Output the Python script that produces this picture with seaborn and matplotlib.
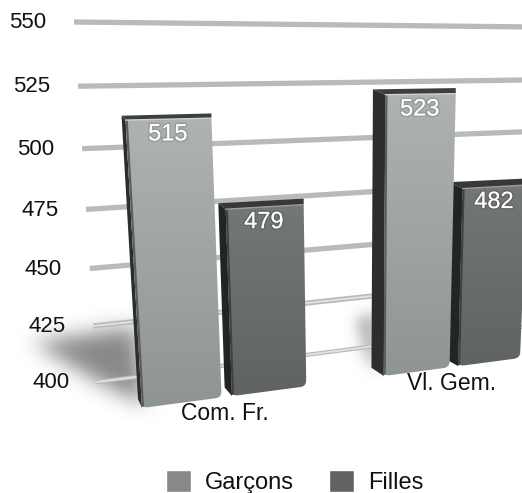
import numpy as np
import pandas as pd
import seaborn as sns
import matplotlib
matplotlib.use("Agg")
import matplotlib.pyplot as plt
import matplotlib.patheffects as pe
from matplotlib import transforms as mtransforms
from matplotlib.patches import Polygon
from matplotlib.path import Path

# donnees
epreuves = ["Com. Fr.", "Vl. Gem."]
garcons = [515, 523]
filles = [479, 482]
graduations = [400, 425, 450, 475, 500, 525, 550]

LARG, HAUT = 522, 493


class Perspective(mtransforms.Transform):
    # homographie donnees -> pixels (y image compte depuis le haut)
    input_dims = 2
    output_dims = 2
    is_separable = False
    has_inverse = False

    def __init__(self, src, dst):
        super().__init__()
        A, b = [], []
        for (x, y), (u, v) in zip(src, dst):
            v = HAUT - v
            A.append([x, y, 1, 0, 0, 0, -u * x, -u * y])
            A.append([0, 0, 0, x, y, 1, -v * x, -v * y])
            b += [u, v]
        h = np.linalg.solve(np.array(A, float), np.array(b, float))
        self.H = np.append(h, 1).reshape(3, 3)

    def transform_non_affine(self, values):
        values = np.asarray(values, float)
        pts = np.column_stack([values, np.ones(len(values))]) @ self.H.T
        return pts[:, :2] / pts[:, 2:]


# plans de la scene : grille au fond, faces avant et arriere des barres
plan_grille = Perspective([(0, 400), (1, 400), (0, 550), (1, 550)],
                          [(97, 382), (522, 327), (74, 22), (533, 27)])
coins = [(-0.329, 400), (1.329, 400), (-0.329, 525), (1.329, 525)]
plan_avant = Perspective(coins, [(142, 408), (520, 358), (124, 93), (531, 88)])
plan_arriere = Perspective(coins, [(138, 399), (504, 350), (120, 89), (515, 82)])

sns.set_theme(style="white")
plt.rcParams["font.family"] = ["Liberation Sans", "DejaVu Sans"]

df = pd.DataFrame({
    "epreuve": epreuves * 2,
    "score": garcons + filles,
    "genre": ["Garçons"] * 2 + ["Filles"] * 2,
})

fig = plt.figure(figsize=(LARG / 100, HAUT / 100), dpi=100)
ax = fig.add_axes([0, 0, 1, 1])
sns.barplot(data=df, x="epreuve", y="score", hue="genre", width=0.7, gap=0.12,
            palette=["#888888", "#636363"], saturation=1, ax=ax, zorder=4)


def ombre(points, sigma, force):
    # tache floue sous les barres
    yy, xx = np.mgrid[0:HAUT, 0:LARG]
    masque = Path(points).contains_points(np.column_stack([xx.ravel(), yy.ravel()]))
    masque = masque.reshape(HAUT, LARG).astype(float)
    n = np.arange(-3 * sigma, 3 * sigma + 1)
    noyau = np.exp(-n ** 2 / (2.0 * sigma ** 2))
    noyau /= noyau.sum()
    masque = np.apply_along_axis(lambda r: np.convolve(r, noyau, "same"), 0, masque)
    masque = np.apply_along_axis(lambda r: np.convolve(r, noyau, "same"), 1, masque)
    rgba = np.zeros((HAUT, LARG, 4))
    rgba[..., :3] = 0.45
    rgba[..., 3] = masque * force
    ax.imshow(rgba, extent=(0, LARG, 0, HAUT), origin="upper", aspect="auto",
              transform=mtransforms.IdentityTransform(), zorder=1)


ombre([(32, 342), (135, 326), (145, 404), (105, 385)], 10, 0.85)
ombre([(356, 318), (375, 312), (375, 372), (364, 352)], 7, 0.6)

# grille
for val in graduations:
    clair = val == 400
    ax.plot([0, 1], [val, val], transform=plan_grille, color="#bababa",
            lw=3.0 if clair else 3.8, solid_capstyle="butt", zorder=2)
    if val <= 425:
        ax.plot([0, 1], [val, val], transform=plan_grille, color="#e2e2e2",
                lw=1.3, solid_capstyle="butt", zorder=2.1)
    ax.annotate(str(val), xy=(0, val), xycoords=plan_grille, xytext=(-20, -0.5),
                textcoords="offset points", ha="right", va="center",
                fontsize=16, color="#111111", zorder=8)


def coins_arrondis(pts, r):
    # contour ferme avec les deux coins du bas arrondis
    bas_g, haut_g, haut_d, bas_d = [np.array(p) for p in pts]
    vers_d = (bas_d - bas_g) / np.linalg.norm(bas_d - bas_g)
    verts = [bas_g + vers_d * r, bas_g,
             bas_g + (haut_g - bas_g) / np.linalg.norm(haut_g - bas_g) * r,
             haut_g, haut_d,
             bas_d + (haut_d - bas_d) / np.linalg.norm(haut_d - bas_d) * r, bas_d,
             bas_d - vers_d * r, bas_g]
    codes = [Path.MOVETO, Path.CURVE3, Path.CURVE3, Path.LINETO, Path.LINETO,
             Path.LINETO, Path.CURVE3, Path.CURVE3, Path.CLOSEPOLY]
    return Path(verts, codes)


ident = mtransforms.IdentityTransform()
teintes = {0: ("#aeb2b2", "#8f9595", "#2c2e2e", "#3d3f3f"),
           1: ("#737775", "#5f6362", "#232525", "#373939")}

for i_genre, conteneur in enumerate(ax.containers):
    haut_c, bas_c, c_cote, c_dessus = teintes[i_genre]
    for barre in conteneur:
        v = barre.get_height()
        x0, x1 = barre.get_x(), barre.get_x() + barre.get_width()
        barre.set_y(400)
        barre.set_height(v - 400)
        barre.set_transform(plan_avant)
        barre.set_linewidth(0)
        barre.set_visible(False)  # remplacee par le degrade ci-dessous

        av = plan_avant.transform(np.array([(x0, 400), (x0, v), (x1, v), (x1, 400)]))
        ar = plan_arriere.transform(np.array([(x0, 400), (x0, v), (x1, v), (x1, 400)]))

        # cote gauche et dessus de la barre
        ax.add_patch(Polygon([ar[0], ar[1], av[1], av[0]], closed=True, transform=ident,
                             fc=c_cote, ec="none", zorder=3))
        ax.add_patch(Polygon([av[1], ar[1], (av[2][0], ar[2][1]), av[2]], closed=True,
                             transform=ident, fc=c_dessus, ec="none", zorder=3))

        # degrade de la face avant
        contour = coins_arrondis(av, 6)
        degrade = np.linspace(0, 1, 64)[:, None, None]
        rgb = (1 - degrade) * np.array(matplotlib.colors.to_rgb(haut_c)) \
            + degrade * np.array(matplotlib.colors.to_rgb(bas_c))
        xa, ya = av.min(axis=0)
        xb, yb = av.max(axis=0)
        img = ax.imshow(rgb, extent=(xa, xb, ya, yb), origin="upper", aspect="auto",
                        transform=ident, zorder=5, interpolation="bilinear")
        img.set_clip_path(contour, ident)

        # arete adoucie a gauche de la face avant
        ax.plot([x0 + 0.004, x0 + 0.004], [400.5, v], transform=plan_avant,
                color="#5b5e5e" if i_genre == 0 else "#404242", lw=1.6,
                solid_capstyle="butt", zorder=5.5)

        # petit reflet sur l'arete haute
        ax.plot([av[1][0], av[2][0]], [av[1][1], av[2][1]], transform=ident,
                color="#cfd2d2" if i_genre == 0 else "#9a9d9c", lw=1.0, zorder=6)

        ax.annotate(f"{v:.0f}", xy=((x0 + x1) / 2, v), xycoords=plan_avant,
                    xytext=(-1, -11), textcoords="offset points", ha="center", va="center",
                    fontsize=17, color="white", zorder=9,
                    path_effects=[pe.withStroke(linewidth=2.2, foreground=(0, 0, 0, 0.12))])

for i, nom in enumerate(epreuves):
    ax.annotate(nom, xy=(i, 400), xycoords=plan_avant, xytext=(-1.5, -12),
                textcoords="offset points", ha="center", va="center",
                fontsize=16.5, color="#111111", zorder=9)

sns.move_legend(ax, "lower left", bbox_to_anchor=(166 / LARG, -1 / HAUT), ncol=2,
                frameon=False, title=None, fontsize=17, handlelength=1.06,
                handleheight=1.06, handletextpad=0.6, columnspacing=1.48, borderpad=0,
                borderaxespad=0, labelcolor="#111111")

ax.set_axis_off()
fig.savefig("out.png", dpi=100)
